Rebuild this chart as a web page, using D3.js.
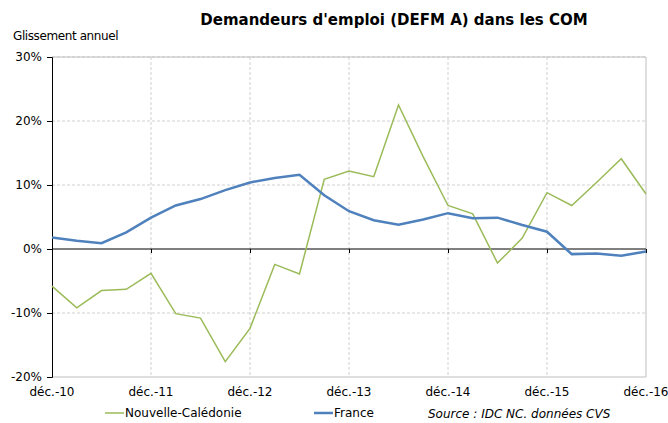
<!DOCTYPE html>
<html>
<head>
<meta charset="utf-8">
<script src="https://cdn.jsdelivr.net/npm/d3@7"></script>
<style>
  body { margin: 0; background: #fff; }
  text { font-family: Tahoma, "DejaVu Sans", sans-serif; fill: #000; }
</style>
</head>
<body>
<div id="chart"></div>
<script>
// quarterly, déc.-10 .. déc.-16
const yearLabels = ['déc.-10', 'déc.-11', 'déc.-12', 'déc.-13', 'déc.-14', 'déc.-15', 'déc.-16']
const nouvelleCaledonie = [-5.8, -9.2, -6.5, -6.3, -3.8, -10.1, -10.8, -17.6, -12.4, -2.4, -3.9,
  10.9, 12.2, 11.3, 22.5, 14.4, 6.8, 5.5, -2.2, 1.7, 8.8, 6.8, 10.4, 14.1, 8.6]
const france = [1.8, 1.3, 0.9, 2.6, 4.9, 6.8, 7.8, 9.2, 10.4, 11.1, 11.6,
  8.4, 5.9, 4.5, 3.8, 4.6, 5.6, 4.8, 4.9, 3.75, 2.7, -0.8, -0.7, -1.05, -0.4]
const yTicks = [-20, -10, 0, 10, 20, 30]

const width = 668, height = 423
const margins = { top: 57, right: 22, bottom: 46, left: 52 }

const svg = d3.select('#chart').append('svg')
  .attr('width', width)
  .attr('height', height)

const x = d3.scaleLinear()
  .domain([0, france.length - 1])
  .range([margins.left, width - margins.right])

const y = d3.scaleLinear()
  .domain([-20, 30])
  .range([height - margins.bottom, margins.top])

const yearIdx = yearLabels.map((d, i) => i * 4)

// grid
svg.append('g')
  .selectAll('line')
  .data(yTicks.filter(d => d !== 0 && d !== -20))
  .join('line')
  .attr('x1', x(0)).attr('x2', x(24))
  .attr('y1', d => y(d)).attr('y2', d => y(d))
  .attr('stroke', '#d0d0d0')
  .attr('stroke-dasharray', '3,2')

svg.append('g')
  .selectAll('line')
  .data(yearIdx.slice(1, -1))
  .join('line')
  .attr('x1', d => x(d)).attr('x2', d => x(d))
  .attr('y1', y(30)).attr('y2', y(-20))
  .attr('stroke', '#d0d0d0')
  .attr('stroke-dasharray', '3,2')

// frame (top, right, bottom)
svg.append('path')
  .attr('d', `M${x(0)},${y(30)}H${x(24)}V${y(-20)}H${x(0)}`)
  .attr('fill', 'none')
  .attr('stroke', '#bfbfbf')

// y axis
svg.append('g')
  .attr('transform', `translate(${x(0)},0)`)
  .call(d3.axisLeft(y).tickValues(yTicks).tickSize(5).tickFormat(d => d + '%'))
  .call(g => g.selectAll('text').attr('font-size', 12).attr('x', -10))
  .call(g => g.select('.domain').attr('stroke', '#000'))

// x axis at zero
svg.append('g')
  .attr('transform', `translate(0,${y(0)})`)
  .call(d3.axisBottom(x).tickValues(yearIdx).tickSize(4).tickFormat(''))
  .call(g => g.select('.domain').attr('d', `M${x(0)},0H${x(24)}`).attr('stroke', '#000'))

// x labels under plot
svg.append('g')
  .selectAll('text')
  .data(yearIdx)
  .join('text')
  .attr('x', d => x(d))
  .attr('y', y(-20) + 19)
  .attr('text-anchor', 'middle')
  .attr('font-size', 12)
  .text((d, i) => yearLabels[i])

const line = d3.line()
  .x((d, i) => x(i))
  .y(d => y(d))

svg.append('path')
  .datum(nouvelleCaledonie)
  .attr('d', line)
  .attr('fill', 'none')
  .attr('stroke', '#9bbb59')
  .attr('stroke-width', 1.5)

svg.append('path')
  .datum(france)
  .attr('d', line)
  .attr('fill', 'none')
  .attr('stroke', '#4f81bd')
  .attr('stroke-width', 2.5)

// titles
svg.append('text')
  .attr('x', 394).attr('y', 25)
  .attr('text-anchor', 'middle')
  .attr('font-size', 15)
  .attr('font-weight', 'bold')
  .text("Demandeurs d'emploi (DEFM A) dans les COM")

svg.append('text')
  .attr('x', 13).attr('y', 40)
  .attr('font-size', 12)
  .attr('letter-spacing', -0.4)
  .text('Glissement annuel')

// legend
const legend = [
  { name: 'Nouvelle-Calédonie', color: '#9bbb59', w: 1.5, x0: 105 },
  { name: 'France', color: '#4f81bd', w: 2.5, x0: 314 }
]
const lg = svg.append('g').selectAll('g').data(legend).join('g')
lg.append('line')
  .attr('x1', d => d.x0).attr('x2', d => d.x0 + 19)
  .attr('y1', 413).attr('y2', 413)
  .attr('stroke', d => d.color)
  .attr('stroke-width', d => d.w)
lg.append('text')
  .attr('x', d => d.x0 + 20).attr('y', 417)
  .attr('font-size', 12)
  .text(d => d.name)

svg.append('text')
  .attr('x', 428).attr('y', 418)
  .attr('font-size', 12)
  .attr('font-style', 'italic')
  .text('Source : IDC NC. données CVS')
</script>
</body>
</html>
